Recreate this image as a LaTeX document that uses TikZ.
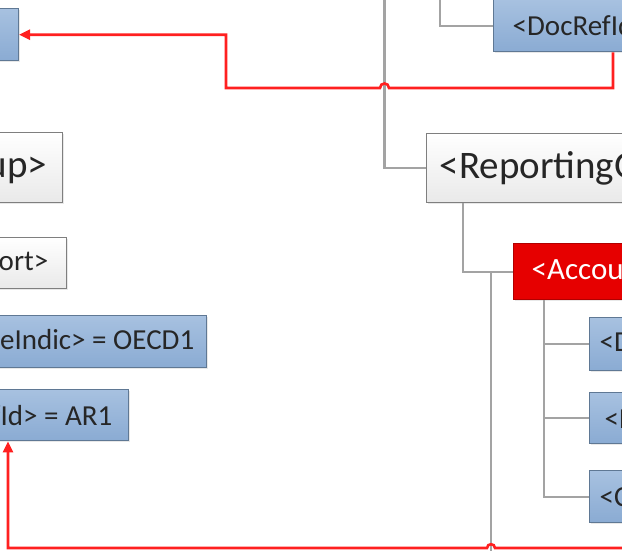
\documentclass[tikz,border=0pt]{standalone}
\usepackage{fontspec}
\setmainfont{Carlito}
\usetikzlibrary{arrows.meta,shadows}
\definecolor{linegray}{HTML}{A3A3A3}
\definecolor{redline}{HTML}{FF2020}
\definecolor{bluetop}{HTML}{A7C1E0}
\definecolor{bluebot}{HTML}{8AABD3}
\definecolor{blueedge}{HTML}{5F7894}
\definecolor{grayedge}{HTML}{7F7F7F}
\definecolor{grayfill}{HTML}{E9E9E9}
\definecolor{redfill}{HTML}{E60000}
\definecolor{rededge}{HTML}{B00000}
\definecolor{txt}{HTML}{262626}
\tikzset{
  box/.style={rectangle, inner ysep=0pt, text=txt, line width=1.4pt,
    drop shadow={shadow xshift=1.2pt, shadow yshift=-1.5pt, opacity=0.18}},
  bluebox/.style={box, draw=blueedge, top color=bluetop, bottom color=bluebot,
    minimum height=52pt, font=\fontsize{29}{32}\selectfont},
  whitebox/.style={box, draw=grayedge, top color=white, bottom color=grayfill},
  bigtext/.style={font=\fontsize{39}{42}\selectfont},
  midtext/.style={font=\fontsize{29}{32}\selectfont},
  redbox/.style={box, draw=rededge, fill=redfill, text=white, font=\fontsize{31}{34}\selectfont},
  conn/.style={draw=linegray, line width=2.4pt},
  refline/.style={draw=redline, line width=2.6pt, -{Triangle[length=11pt,width=10pt]}},
}
\begin{document}
\begin{tikzpicture}[x=1pt, y=-1pt]
\useasboundingbox (0,0) rectangle (622,550);
\clip (0,0) rectangle (622,550);
\fill[white] (0,0) rectangle (622,550);
% left column
\node[bluebox, anchor=north east, minimum width=80pt] (tl) at (19,8) {};
\node[whitebox, bigtext, anchor=north east, minimum height=70pt, inner xsep=15pt] (lrg) at (63,132) {<ReportingGroup>};
\node[whitebox, midtext, anchor=north east, minimum height=51pt, inner xsep=18pt] (lar) at (67,237) {<AccountReport>};
\node[bluebox, anchor=north east, inner xsep=12pt] (ldt) at (207,315) {<DocTypeIndic> = OECD1};
\node[bluebox, anchor=north east, inner xsep=16pt, minimum height=51pt] (ar) at (129,389) {<DocRefId> = AR1};
% right column
\node[bluebox, anchor=north west, inner xsep=19pt] (docref) at (493,-1) {<DocRefId>};
\node[whitebox, bigtext, anchor=north west, minimum height=69pt, inner xsep=13pt] (rg) at (426,133) {<ReportingGroup>};
\node[redbox, anchor=north west, minimum height=56pt, inner xsep=18pt] (acc) at (513,243) {<AccountReport>};
\node[bluebox, anchor=north west, inner xsep=10pt, minimum height=53pt] (c1) at (589,317) {<DocTypeIndic> = OECD2};
\node[bluebox, anchor=north west, inner xsep=15pt, minimum height=51pt] (c2) at (589,392) {<DocRefId> = AR2};
\node[bluebox, anchor=north west, inner xsep=10pt] (c3) at (589,470) {<CorrDocRefId> = AR1};
% gray tree connectors
\coordinate (topA) at (384.5,-5);
\coordinate (topB) at (440,-5);
\coordinate (botD) at (491,560);
\draw[conn] (topA) |- (rg.west);
\draw[conn] (topB) |- (docref.west);
\draw[conn] (463,0 |- rg.south) |- (acc.west);
\draw[conn] (491,0 |- acc.west) -- (botD);
\draw[conn] (544,0 |- acc.south) |- (c1.west);
\draw[conn] (544,0 |- acc.south) |- (c2.west);
\draw[conn] (544,0 |- acc.south) |- (c3.west);
% red reference lines
\draw[refline] (613,0 |- docref.south) -- (613,88) -- (389,88)
  .. controls (389,82) and (380,82) .. (380,88) -- (226,88)
  -- (226,0 |- tl.east) -- (tl.east);
\coordinate (rstart) at (640,548);
\draw[refline] (rstart) -- (495,548) .. controls (495,543) and (487,543) .. (487,548)
  -- (8,548) -- (8,0 |- ar.south);
\end{tikzpicture}
\end{document}
